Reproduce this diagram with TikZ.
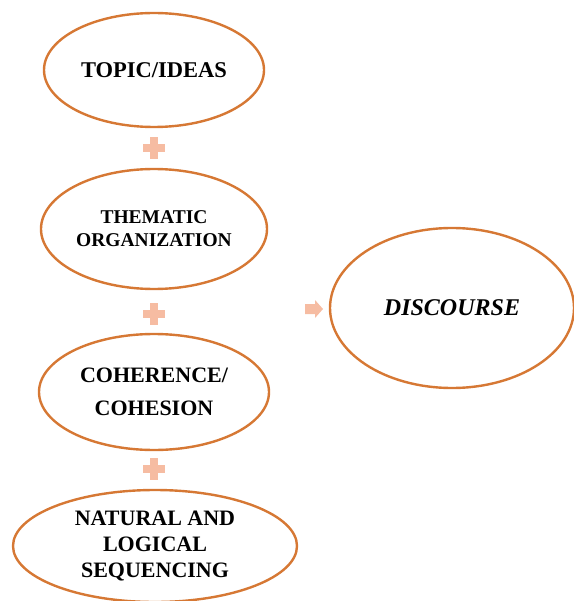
\documentclass[tikz,border=0pt]{standalone}
\usepackage{fontspec}
\setmainfont{Liberation Serif}
\usetikzlibrary{shapes.geometric}
\definecolor{edge}{RGB}{214,120,52}
\definecolor{plusc}{RGB}{246,188,162}
\begin{document}
\begin{tikzpicture}[x=1pt,y=-1pt,
  oval/.style={draw=edge,line width=2.4pt,ellipse,fill=white,align=center,inner sep=0pt},
  plussign/.style={fill=plusc,draw=none},
]
\useasboundingbox (0,0) rectangle (573,601);
\node[oval,minimum width=220,minimum height=114,font=\bfseries\fontsize{22.5}{26}\selectfont] (t) at (154,70) {TOPIC/IDEAS};
\node[oval,minimum width=226,minimum height=120,font=\bfseries\fontsize{19.5}{23}\selectfont] (th) at (154,229) {THEMATIC\\ORGANIZATION};
\node[oval,minimum width=230,minimum height=116,font=\bfseries\fontsize{22}{33}\selectfont] (c) at (154,392) {COHERENCE/\\COHESION};
\node[oval,minimum width=284,minimum height=112,font=\bfseries\fontsize{22}{26}\selectfont] (n) at (155,546) {NATURAL AND\\LOGICAL\\SEQUENCING};
\node[oval,minimum width=244,minimum height=160,font=\bfseries\itshape\fontsize{24}{28}\selectfont] (d) at (452,308) {DISCOURSE};
% plus signs
\foreach \name/\py in {p1/148,p2/314,p3/469}{
  \coordinate (\name) at (154,\py);
  \fill[plussign] ([xshift=-11,yshift=-4]\name) rectangle ([xshift=11,yshift=4]\name);
  \fill[plussign] ([xshift=-4,yshift=-11]\name) rectangle ([xshift=4,yshift=11]\name);
}
% arrow
\coordinate (ar) at (314,309);
\fill[plussign] ([xshift=-9,yshift=-5]ar) -- ([xshift=1,yshift=-5]ar) -- ([xshift=1,yshift=-9]ar)
  -- ([xshift=9,yshift=0]ar) -- ([xshift=1,yshift=9]ar) -- ([xshift=1,yshift=5]ar)
  -- ([xshift=-9,yshift=5]ar) -- cycle;
\end{tikzpicture}
\end{document}
